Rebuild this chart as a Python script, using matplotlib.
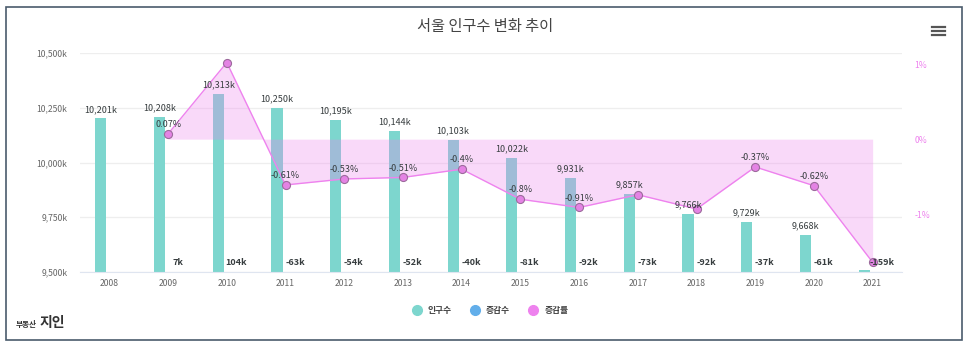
import matplotlib.pyplot as plt
from matplotlib.lines import Line2D
from matplotlib.patches import Rectangle

plt.rcParams['font.family'] = ['Noto Sans CJK KR', 'DejaVu Sans']

years = ['2008', '2009', '2010', '2011', '2012', '2013', '2014',
         '2015', '2016', '2017', '2018', '2019', '2020', '2021']
population = [10201, 10208, 10313, 10250, 10195, 10144, 10103,
              10022, 9931, 9857, 9766, 9729, 9668, 9509]  # thousand
change = [None, 7, 104, -63, -54, -52, -40, -81, -92, -73, -92, -37, -61, -159]
rate = [None, 0.07, 1.02, -0.61, -0.53, -0.51, -0.4,
        -0.8, -0.91, -0.74, -0.93, -0.37, -0.62, -1.64]
# labels the original chart hides because they overlap
rate_label_shown = [False, True, False, True, True, True, True,
                    True, True, False, False, True, True, False]
pop_label_shown = [True] * 13 + [False]

TEAL = '#7dd6ce'
BLUE = '#62aeea'
VIOLET = '#ee82ee'
TEXT = '#373d3f'

fig = plt.figure(figsize=(9.66, 3.45), dpi=100)
ax = fig.add_axes([80 / 966, 73 / 345, 822 / 966, 219 / 345])
ax2 = ax.twinx()

x = list(range(len(years)))

# population bars (left axis)
ax.bar([i - 0.145 for i in x], population, width=0.19, color=TEAL, zorder=2)
ax.set_ylim(9500, 10500)
ax.set_xlim(-0.5, len(years) - 0.5)
ax.set_yticks([9500, 9750, 10000, 10250, 10500])
ax.set_yticklabels([f'{v:,}k' for v in [9500, 9750, 10000, 10250, 10500]])
ax.set_xticks(x)
ax.set_xticklabels(years)
ax.tick_params(axis='y', length=0, pad=9, labelsize=6.2, labelcolor='#666666')
ax.tick_params(axis='x', length=0, pad=5, labelsize=6.2, labelcolor='#666666')
ax.grid(axis='y', color='#eeeeee', linewidth=0.9, zorder=0)
ax.set_axisbelow(True)
for s in ['top', 'left', 'right']:
    ax.spines[s].set_visible(False)
ax.spines['bottom'].set_color('#dfe5f0')

# change rate area (right axis)
rx = [i for i in x if rate[i] is not None]
ry = [rate[i] for i in rx]
ax2.fill_between(rx, ry, 0, color=VIOLET, alpha=0.3, linewidth=0, zorder=3)
ax2.plot(rx, ry, color=VIOLET, linewidth=1, zorder=4)
ax2.plot(rx, ry, linestyle='none', marker='o', markersize=5.8,
         markerfacecolor='#e483e4', markeredgecolor='#9c6a9c', markeredgewidth=0.8, zorder=5)
ax2.set_ylim(-1.769, 1.147)
ax2.set_yticks([-1, 0, 1])
ax2.set_yticklabels(['-1%', '0%', '1%'])
ax2.tick_params(axis='y', length=0, pad=9, labelsize=6.2, labelcolor=VIOLET)
for s in ['top', 'left', 'right', 'bottom']:
    ax2.spines[s].set_visible(False)

# data labels, drawn on the top axes so the fill does not cover them
for i, p in enumerate(population):
    if pop_label_shown[i]:
        ax2.annotate(f'{p:,}k', (i - 0.145, p), xycoords=ax.transData, xytext=(0, 6.5),
                     textcoords='offset points', ha='center', va='center', fontsize=6.5,
                     color=TEXT, fontweight='medium', zorder=6)
for i, c in enumerate(change):
    if c is not None:
        ax2.annotate(f'{c}k', (i + 0.16, 9500), xycoords=ax.transData, xytext=(0, 7),
                     textcoords='offset points', ha='center', va='center', fontsize=6.5,
                     color=TEXT, fontweight='bold', zorder=6)
for i in rx:
    if rate_label_shown[i]:
        ax2.annotate(f'{rate[i]:g}%', (i, rate[i]), xytext=(0, 6.8), textcoords='offset points',
                     ha='center', va='center', fontsize=6.5, color=TEXT, zorder=6)

# title
fig.text(485 / 966, 1 - 27 / 345, '서울 인구수 변화 추이', ha='center', va='center',
         fontsize=11, color='#444444')

# legend
handles = [Line2D([], [], linestyle='none', marker='o', markersize=7, color=c)
           for c in [TEAL, BLUE, VIOLET]]
fig.legend(handles, ['인구수', '증감수', '증감률'], loc='center', bbox_to_anchor=(488 / 966, 1 - 311 / 345),
           ncol=3, frameon=False, handletextpad=0.3, columnspacing=1.6,
           prop={'size': 6.3, 'weight': 'bold'})
for t in fig.legends[0].get_texts():
    t.set_color('#444444')

# hamburger menu icon
for yy in [27, 31, 35]:
    fig.add_artist(Line2D([932 / 966, 945 / 966], [1 - yy / 345] * 2, color='#555555', linewidth=1.6))

# logo
fig.text(16 / 966, 1 - 324 / 345, '부동산', fontsize=5.5, fontweight='bold', color='#333333', va='center')
fig.text(40 / 966, 1 - 323 / 345, '지인', fontsize=10, fontweight='bold', color='#333333', va='center')

# outer frame
fig.add_artist(Rectangle((6 / 966, 5 / 345), 956 / 966, 333 / 345, transform=fig.transFigure,
                         fill=False, edgecolor='#4a5b6c', linewidth=1.2))

fig.savefig('out.png', dpi=100)
